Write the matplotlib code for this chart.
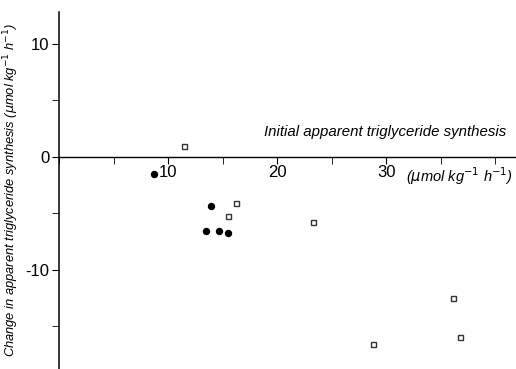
import matplotlib
matplotlib.use("Agg")
import matplotlib.pyplot as plt
from matplotlib.ticker import MultipleLocator

plt.rcParams['font.family'] = ['Liberation Sans', 'DejaVu Sans']
plt.rcParams['mathtext.default'] = 'it'
plt.rcParams['axes.unicode_minus'] = False

# Filled circles
filled_x = [8.7, 13.9, 13.5, 14.7, 15.5]
filled_y = [-1.5, -4.4, -6.6, -6.6, -6.8]
# Open squares
open_x = [11.5, 16.2, 15.5, 23.3, 36.1, 36.8, 28.8]
open_y = [0.9, -4.1, -5.3, -5.8, -12.5, -16.0, -16.6]

x_major = [10, 20, 30]
y_major = [-10, 0, 10]

fig = plt.figure(figsize=(5.16, 3.69), dpi=100)
ax = fig.add_axes([59/516, 0.0, (516-59)/516, (369-12)/369])
ax.set_xlim(0, 41.9)
ax.set_ylim(-18.8, 12.8)

ax.plot(filled_x, filled_y, 'o', color='black', markersize=4.3, linestyle='none')
ax.plot(open_x, open_y, 's', markerfacecolor='white', markeredgecolor='#333333',
        markeredgewidth=1.0, markersize=3.6, linestyle='none')

for s in ['top', 'right']:
    ax.spines[s].set_visible(False)
ax.spines['bottom'].set_position(('data', 0))
ax.spines['left'].set_linewidth(1.1)
ax.spines['bottom'].set_linewidth(1.0)

ax.set_xticks(x_major)
ax.xaxis.set_minor_locator(MultipleLocator(5))
ax.set_yticks(y_major)
ax.yaxis.set_minor_locator(MultipleLocator(5))
ax.tick_params(axis='x', which='major', length=5, direction='out', labelsize=12, pad=1)
ax.tick_params(axis='x', which='minor', length=5, direction='out')
ax.tick_params(axis='y', which='both', direction='out', length=5, labelsize=12, pad=2)

ax.text(41.0, 2.2, 'Initial apparent triglyceride synthesis', fontsize=10.8,
        style='italic', ha='right', va='center')
ax.text(31.8, -1.7, r'($\mu$mol kg$^{-1}$ h$^{-1}$)', fontsize=10.5,
        style='italic', ha='left', va='center')

ax.set_ylabel(r'Change in apparent triglyceride synthesis ($\mu$mol kg$^{-1}$ h$^{-1}$)',
              fontsize=9.3, style='italic')
ax.yaxis.set_label_coords(-38/457, 0.5)

fig.savefig('out.png', dpi=100)
